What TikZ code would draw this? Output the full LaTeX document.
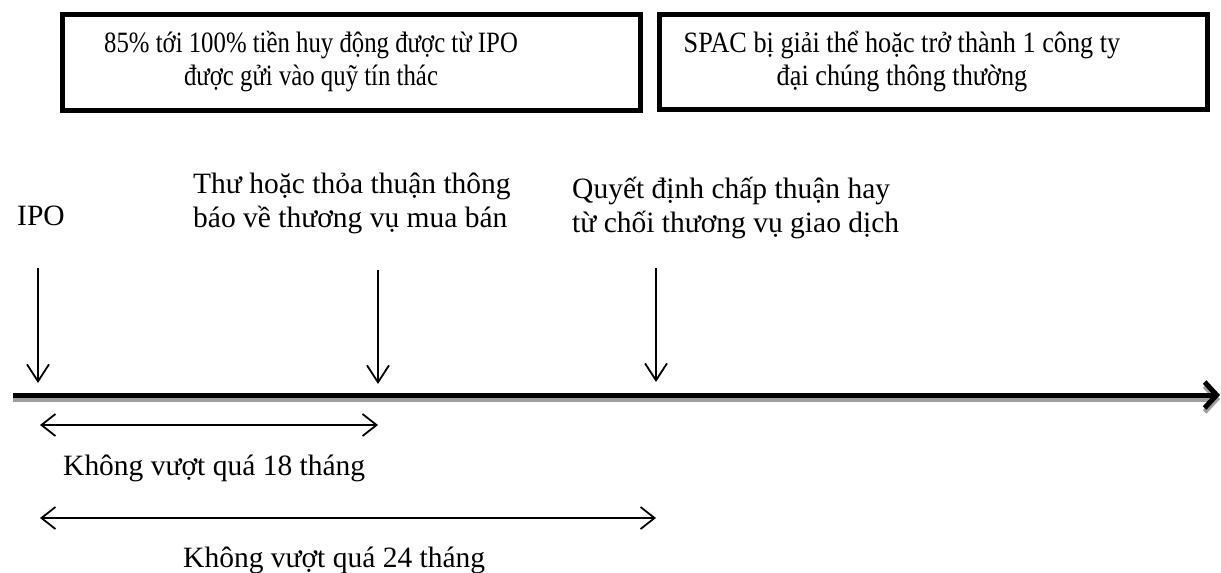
\documentclass[tikz,border=0pt]{standalone}
\usepackage{fontspec}
\setmainfont{Liberation Serif}
\usetikzlibrary{arrows.meta}
\begin{document}
\begin{tikzpicture}[x=1pt,y=-1pt,
  lbl/.style={font=\fontsize{29.5}{34}\selectfont, inner sep=0pt, align=left},
  ctr/.style={font=\fontsize{29.5}{33}\selectfont, inner sep=0pt, align=center},
  frame/.style={draw=black, line width=5pt, inner sep=0pt},
  pointer/.style={line width=1.8pt, -{Straight Barb[length=17pt,width=22pt]}},
  span/.style={line width=1.8pt, {Straight Barb[length=14pt,width=22pt]}-{Straight Barb[length=14pt,width=22pt]}},
  axis/.style={line width=5pt, -{Straight Barb[length=12pt,width=26pt]}},
]
\useasboundingbox (0,0) rectangle (1221,573);

% top boxes
\node[frame, minimum width=578pt, minimum height=96pt] (box1) at (351.5,62.5) {};
\node[frame, minimum width=548pt, minimum height=95pt] (box2) at (933.5,62) {};
\node[ctr, anchor=base] (box1txt) at (311,85)
  {\scalebox{0.84}[1]{85\% tới 100\% tiền huy động được từ IPO}\\\scalebox{0.84}[1]{được gửi vào quỹ tín thác}};
\node[ctr, anchor=base] (box2txt) at (902,85)
  {\scalebox{0.89}[1]{SPAC bị giải thể hoặc trở thành 1 công ty}\\\scalebox{0.89}[1]{đại chúng thông thường}};

% event labels
\node[lbl, anchor=base west] (ipo) at (17,225) {IPO};
\node[lbl, anchor=base west] (deal) at (193,227) {Thư hoặc thỏa thuận thông\\báo về thương vụ mua bán};
\node[lbl, anchor=base west] (vote) at (572,232) {Quyết định chấp thuận hay\\từ chối thương vụ giao dịch};

% timeline with its shadow
\coordinate (tlstart) at (13,395);
\coordinate (tlend) at (1220,395);
\draw[axis, draw=black!38, transform canvas={yshift=-4pt}] (tlstart) -- (tlend);
\draw[axis] (tlstart) -- (tlend);

% event pointers
\coordinate (p1top) at (38,268);  \coordinate (p1) at (38,383);
\coordinate (p2top) at (378,270); \coordinate (p2) at (378,384);
\coordinate (p3top) at (656,268); \coordinate (p3) at (656,382);
\draw[pointer] (p1top) -- (p1);
\draw[pointer] (p2top) -- (p2);
\draw[pointer] (p3top) -- (p3);

% durations
\coordinate (s1a) at (40,425);  \coordinate (s1b) at (378,425);
\coordinate (s2a) at (40,518);  \coordinate (s2b) at (656,518);
\draw[span] (s1a) -- (s1b);
\draw[span] (s2a) -- (s2b);
\node[lbl, anchor=base west] (lim18) at (63,475) {Không vượt quá 18 tháng};
\node[lbl, anchor=base west] (lim24) at (183,567) {Không vượt quá 24 tháng};
\end{tikzpicture}
\end{document}
